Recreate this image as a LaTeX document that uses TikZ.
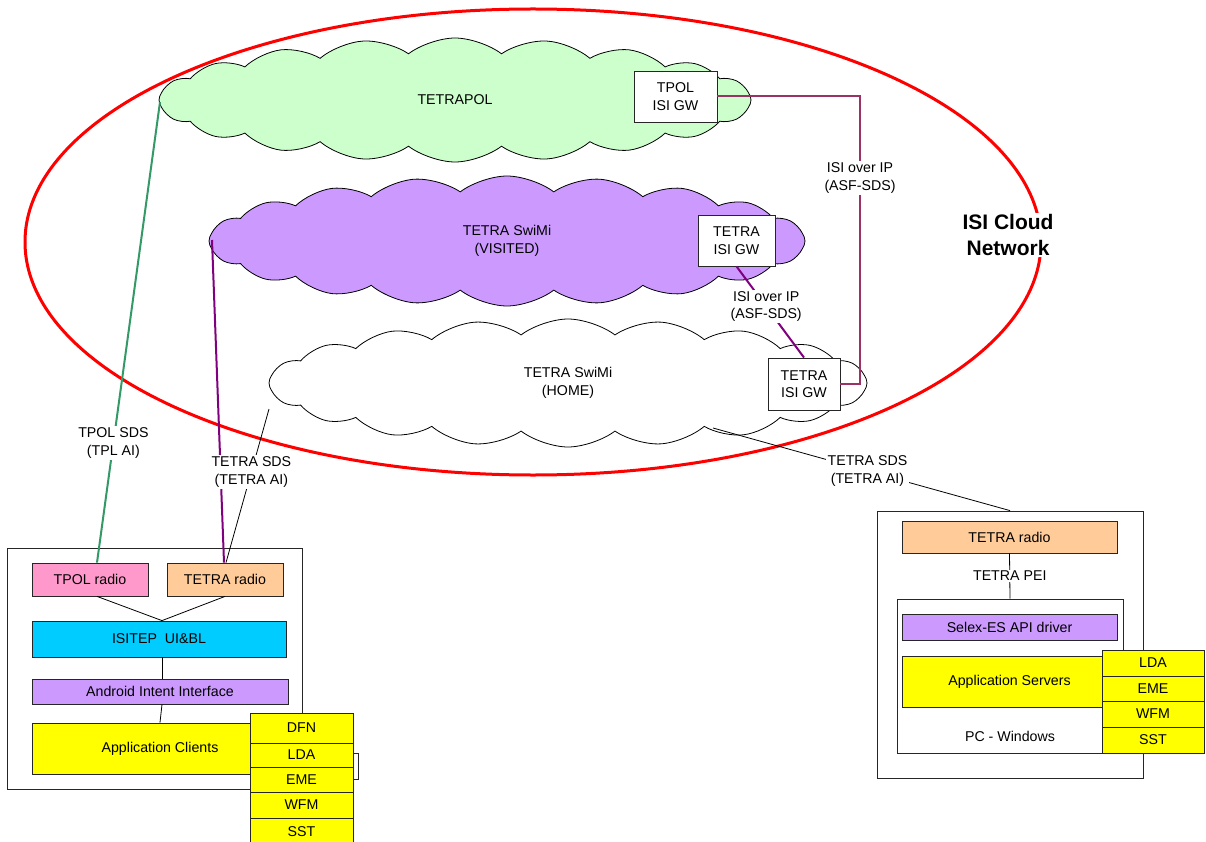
\documentclass[tikz,border=0pt]{standalone}
\usepackage{fontspec}
\setmainfont{Liberation Sans}
\usetikzlibrary{shapes.symbols,calc}
\definecolor{cgreen}{HTML}{CCFFCC}
\definecolor{cviolet}{HTML}{CC99FF}
\definecolor{cpink}{HTML}{FF99CC}
\definecolor{corange}{HTML}{FFCC99}
\definecolor{ccyan}{HTML}{00CCFF}
\definecolor{cyell}{HTML}{FFFF00}
\definecolor{lplum}{HTML}{993366}
\definecolor{lpurple}{HTML}{800080}
\definecolor{lgreen}{HTML}{339966}
\definecolor{cred}{HTML}{FF0000}
\begin{document}
\begin{tikzpicture}[x=1pt,y=-1pt,
  every node/.style={font=\fontsize{14.2}{17.5}\selectfont, align=center, inner sep=0pt},
  boxst/.style={draw=black!85, line width=0.8pt, rectangle},
  cloudst/.style={cloud, draw=black, line width=0.8pt, cloud puffs=20, cloud puff arc=75, cloud ignores aspect},
  lbl/.style={fill=white, text=black, inner sep=1.5pt},
  thin/.style={draw=black, line width=0.8pt},
  colline/.style={line width=2pt}]
\useasboundingbox (0,0) rectangle (1206,842);
% ISI cloud network ellipse
\draw[cred, line width=3pt] (533,242) ellipse [x radius=508, y radius=233];
\node[fill=white, inner sep=1pt, font=\bfseries\fontsize{21}{26}\selectfont] (isinet) at (1008,235) {ISI Cloud\\Network};
% clouds
\node[cloudst, fill=cgreen, minimum width=592, minimum height=124] (tpolnet) at (455,100) {TETRAPOL};
\node[cloudst, fill=cviolet, minimum width=596, minimum height=130] (visnet) at (507,241) {TETRA SwiMi\\(VISITED)};
\node[cloudst, fill=white, minimum width=598, minimum height=128] (homenet) at (568,383) {TETRA SwiMi\\(HOME)};
% gateways
\node[boxst, fill=white, minimum width=83, minimum height=51] (tpolgw) at (675.5,96.5) {TPOL\\ISI GW};
\node[boxst, fill=white, minimum width=77, minimum height=51] (visgw) at (736.5,240.5) {TETRA\\ISI GW};
\node[boxst, fill=white, minimum width=72, minimum height=52] (homegw) at (804,384) {TETRA\\ISI GW};
% ISI links
\draw[lplum, colline] (tpolgw.east) -- (860,96.5) |- (homegw.east);
\node[lbl] (isi1) at (860,178) {ISI over IP\\(ASF-SDS)};
\draw[lpurple, colline] (visgw.south) -- (homegw.north) node[lbl, pos=0.44] (isi2) {ISI over IP\\(ASF-SDS)};
% left terminal box
\node[boxst, fill=white, minimum width=295, minimum height=241] (lbox) at (154.5,668.5) {};
\node[boxst, fill=cpink, minimum width=116, minimum height=33] (tpolr) at (90,579.5) {TPOL radio};
\node[boxst, fill=corange, minimum width=116, minimum height=33] (tetrar) at (225,579.5) {TETRA radio};
\node[boxst, fill=ccyan, minimum width=254, minimum height=36] (isitep) at (159,639) {ISITEP\ \ UI\&BL};
\node[boxst, fill=cviolet, minimum width=256, minimum height=25] (android) at (160,691.5) {Android Intent Interface};
\node[boxst, fill=cyell, minimum width=256, minimum height=51] (appc) at (160,748.5) {Application Clients};
\node[boxst, fill=white, minimum width=40, minimum height=26] (bracket) at (338,766) {};
\node[boxst, fill=cyell, minimum width=103, minimum height=30] (dfn) at (301.5,728) {DFN};
\node[boxst, fill=cyell, minimum width=103, minimum height=24] (lda1) at (301.5,755) {LDA};
\node[boxst, fill=cyell, minimum width=103, minimum height=25] (eme1) at (301.5,779.5) {EME};
\node[boxst, fill=cyell, minimum width=103, minimum height=26] (wfm1) at (301.5,805) {WFM};
\node[boxst, fill=cyell, minimum width=103, minimum height=28, text depth=0pt] (sst1) at (301.5,832) {SST};
\draw[thin] ([xshift=7pt]tpolr.south) -- ([xshift=3pt]isitep.north);
\draw[thin] (tetrar.south) -- ([xshift=3pt]isitep.north);
\draw[thin] ([xshift=3pt]isitep.south) -- ([xshift=2pt]android.north);
\draw[thin] ([xshift=2pt]android.south) -- (appc.north);
% right terminal box
\node[boxst, fill=white, minimum width=266, minimum height=267] (rbox) at (1010,644.5) {};
\node[boxst, fill=corange, minimum width=215, minimum height=32] (tetrar2) at (1009.5,537) {TETRA radio};
\node[boxst, fill=white, minimum width=226, minimum height=154] (pcbox) at (1010,676) {};
\node (pcw) at (1010,736) {PC - Windows};
\draw[thin] (tetrar2.south) -- (pcbox.north) node[lbl, pos=0.5] (pei) {TETRA PEI};
\node[boxst, fill=cviolet, minimum width=215, minimum height=26] (selex) at (1009.5,627) {Selex-ES API driver};
\node[boxst, fill=cyell, minimum width=215, minimum height=51] (apps) at (1009.5,681.5) {Application Servers};
\node[boxst, fill=cyell, minimum width=102, minimum height=26] (lda2) at (1153,663) {LDA};
\node[boxst, fill=cyell, minimum width=102, minimum height=25] (eme2) at (1153,688.5) {EME};
\node[boxst, fill=cyell, minimum width=102, minimum height=26] (wfm2) at (1153,714) {WFM};
\node[boxst, fill=cyell, minimum width=102, minimum height=26] (sst2) at (1153,740) {SST};
% air interface links
\coordinate (gstart) at (160,102);
\coordinate (vstart) at (212,240);
\coordinate (hstart) at (269,409);
\coordinate (rstart) at (713,428);
\draw[lgreen, colline] (gstart) -- ([xshift=7pt]tpolr.north) node[lbl, pos=0.74] (tplai) {TPOL SDS\\(TPL AI)};
\draw[lpurple, colline] (vstart) -- ([xshift=-1pt]tetrar.north);
\draw[thin] (hstart) -- ([xshift=1pt]tetrar.north) node[lbl, pos=0.41] (tai1) {TETRA SDS\\(TETRA AI)};
\draw[thin] (rstart) -- (rbox.north) node[lbl, pos=0.52] (tai2) {TETRA SDS\\(TETRA AI)};
\end{tikzpicture}
\end{document}
